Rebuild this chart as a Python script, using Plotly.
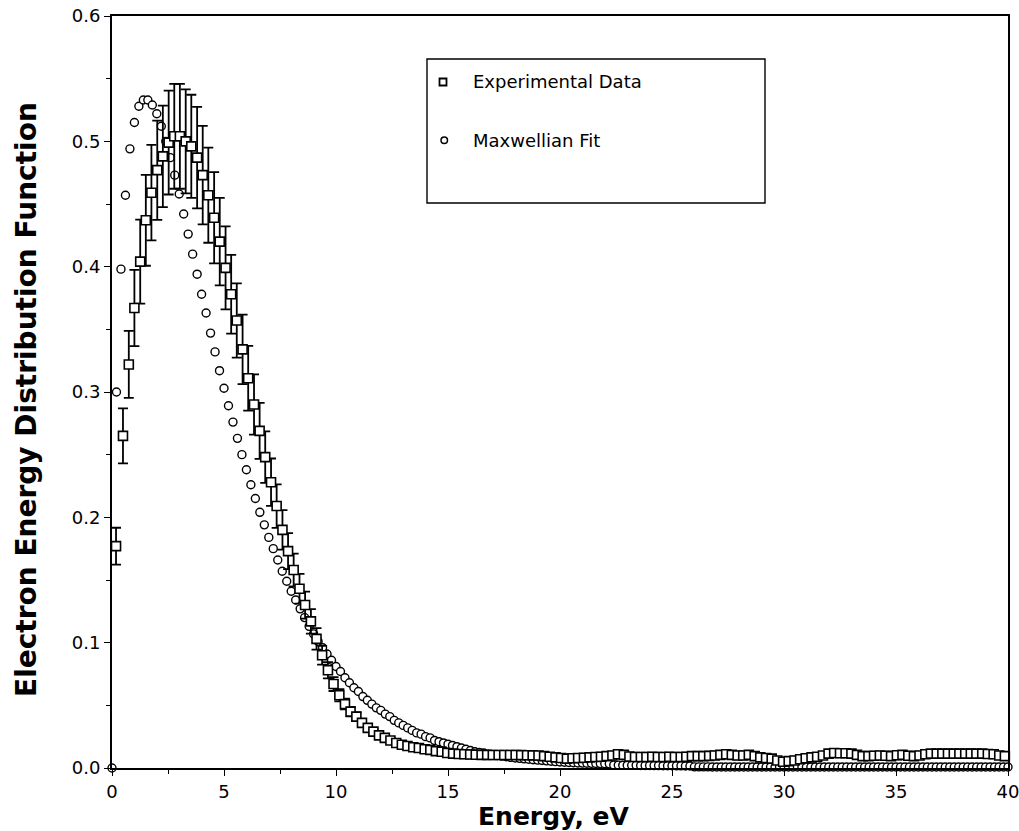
import plotly.graph_objects as go

# ---------------- data ----------------
energy_exp = [0.18, 0.49, 0.75, 1.00, 1.26, 1.51, 1.76, 2.02, 2.27, 2.53, 2.78, 3.03, 3.29, 3.54,
              3.80, 4.05, 4.30, 4.56, 4.81, 5.07, 5.32, 5.57, 5.83, 6.08, 6.34, 6.59, 6.84, 7.10,
              7.35, 7.61, 7.86, 8.11, 8.37, 8.62, 8.88, 9.13, 9.38, 9.64, 9.89, 10.15, 10.40, 10.65,
              10.91, 11.16, 11.42, 11.67, 11.92, 12.18, 12.43, 12.69, 12.94, 13.19, 13.45, 13.70,
              13.96, 14.21, 14.46, 14.72, 14.97, 15.23, 15.48, 15.73, 15.99, 16.24, 16.50, 16.75,
              17.00, 17.26, 17.51, 17.77, 18.02, 18.27, 18.53, 18.78, 19.04, 19.29, 19.54, 19.80,
              20.05, 20.31, 20.56, 20.81, 21.07, 21.32, 21.58, 21.83, 22.08, 22.34, 22.59, 22.85,
              23.10, 23.35, 23.61, 23.86, 24.12, 24.37, 24.62, 24.88, 25.13, 25.39, 25.64, 25.89,
              26.15, 26.40, 26.66, 26.91, 27.16, 27.42, 27.67, 27.93, 28.18, 28.43, 28.69, 28.94,
              29.20, 29.45, 29.70, 29.96, 30.21, 30.47, 30.72, 30.97, 31.23, 31.48, 31.74, 31.99,
              32.24, 32.50, 32.75, 33.01, 33.26, 33.51, 33.77, 34.02, 34.28, 34.53, 34.78, 35.04,
              35.29, 35.55, 35.80, 36.05, 36.31, 36.56, 36.82, 37.07, 37.32, 37.58, 37.83, 38.09,
              38.34, 38.59, 38.85, 39.10, 39.36, 39.61, 39.86]

eedf_exp = [0.177, 0.265, 0.322, 0.367, 0.404, 0.437, 0.459, 0.477, 0.488, 0.499, 0.504, 0.504,
            0.500, 0.496, 0.487, 0.473, 0.457, 0.439, 0.420, 0.399, 0.378, 0.357, 0.334, 0.311,
            0.290, 0.269, 0.248, 0.228, 0.209, 0.190, 0.173, 0.158, 0.143, 0.130, 0.117, 0.103,
            0.090, 0.078, 0.067, 0.058, 0.051, 0.045, 0.041, 0.036, 0.032, 0.029, 0.026, 0.024,
            0.022, 0.020, 0.0185, 0.0175, 0.0165, 0.016, 0.015, 0.0145, 0.0135, 0.013, 0.012,
            0.0115, 0.0112, 0.011, 0.0108, 0.0106, 0.0105, 0.0105, 0.0104, 0.0104, 0.0104, 0.0104,
            0.0104, 0.0103, 0.0102, 0.0101, 0.0100, 0.0095, 0.0090, 0.0085, 0.0080, 0.0075, 0.0078,
            0.0080, 0.0082, 0.0085, 0.0088, 0.0090, 0.0095, 0.0100, 0.0110, 0.0105, 0.0092, 0.0088,
            0.0088, 0.0088, 0.0090, 0.0088, 0.0088, 0.0090, 0.0088, 0.0088, 0.0090, 0.0095, 0.0095,
            0.0095, 0.0097, 0.0100, 0.0105, 0.0110, 0.0105, 0.0100, 0.0100, 0.0105, 0.0095, 0.0085,
            0.0080, 0.0075, 0.0060, 0.0050, 0.0055, 0.0060, 0.0070, 0.0078, 0.0085, 0.0090, 0.0100,
            0.0115, 0.0120, 0.0118, 0.0118, 0.0115, 0.0105, 0.0095, 0.0095, 0.0098, 0.0100, 0.0098,
            0.0095, 0.0102, 0.0105, 0.0098, 0.0095, 0.0100, 0.0110, 0.0115, 0.0115, 0.0115, 0.0115,
            0.0115, 0.0115, 0.0115, 0.0115, 0.0115, 0.0115, 0.0112, 0.0110, 0.0100, 0.0095]

error_percent = 8.3  # error bars read as roughly 8 % of each value

energy_fit = [0.0, 0.2, 0.4, 0.6, 0.8, 1.0, 1.2, 1.4, 1.6, 1.8, 2.0, 2.2, 2.4, 2.6, 2.8, 3.0, 3.2, 3.4,
              3.6, 3.8, 4.0, 4.2, 4.4, 4.6, 4.8, 5.0, 5.2, 5.4, 5.6, 5.8, 6.0, 6.2, 6.4, 6.6, 6.8, 7.0,
              7.2, 7.4, 7.6, 7.8, 8.0, 8.2, 8.4, 8.6, 8.8, 9.0, 9.2, 9.4, 9.6, 9.8, 10.0, 10.2, 10.4,
              10.6, 10.8, 11.0, 11.2, 11.4, 11.6, 11.8, 12.0, 12.2, 12.4, 12.6, 12.8, 13.0, 13.2, 13.4,
              13.6, 13.8, 14.0, 14.2, 14.4, 14.6, 14.8, 15.0, 15.2, 15.4, 15.6, 15.8, 16.0, 16.2, 16.4,
              16.6, 16.8, 17.0, 17.2, 17.4, 17.6, 17.8, 18.0, 18.2, 18.4, 18.6, 18.8, 19.0, 19.2, 19.4,
              19.6, 19.8, 20.0, 20.2, 20.4, 20.6, 20.8, 21.0, 21.2, 21.4, 21.6, 21.8, 22.0, 22.2, 22.4,
              22.6, 22.8, 23.0, 23.2, 23.4, 23.6, 23.8, 24.0, 24.2, 24.4, 24.6, 24.8, 25.0, 25.2, 25.4,
              25.6, 25.8, 26.0, 26.2, 26.4, 26.6, 26.8, 27.0, 27.2, 27.4, 27.6, 27.8, 28.0, 28.2, 28.4,
              28.6, 28.8, 29.0, 29.2, 29.4, 29.6, 29.8, 30.0, 30.2, 30.4, 30.6, 30.8, 31.0, 31.2, 31.4,
              31.6, 31.8, 32.0, 32.2, 32.4, 32.6, 32.8, 33.0, 33.2, 33.4, 33.6, 33.8, 34.0, 34.2, 34.4,
              34.6, 34.8, 35.0, 35.2, 35.4, 35.6, 35.8, 36.0, 36.2, 36.4, 36.6, 36.8, 37.0, 37.2, 37.4,
              37.6, 37.8, 38.0, 38.2, 38.4, 38.6, 38.8, 39.0, 39.2, 39.4, 39.6, 39.8, 40.0]

eedf_fit = [0.000, 0.300, 0.398, 0.457, 0.494, 0.515, 0.528, 0.533, 0.533, 0.529, 0.522, 0.512,
            0.500, 0.487, 0.473, 0.458, 0.442, 0.426, 0.410, 0.394, 0.378, 0.363, 0.347, 0.332,
            0.317, 0.303, 0.289, 0.276, 0.263, 0.250, 0.238, 0.226, 0.215, 0.204, 0.194, 0.184,
            0.175, 0.166, 0.157, 0.149, 0.141, 0.134, 0.127, 0.120, 0.113, 0.107, 0.101, 0.096,
            0.091, 0.086, 0.081, 0.077, 0.072, 0.068, 0.064, 0.061, 0.057, 0.054, 0.051, 0.048,
            0.046, 0.043, 0.041, 0.038, 0.036, 0.034, 0.032, 0.030, 0.028, 0.027, 0.025, 0.024,
            0.022, 0.021, 0.020, 0.019, 0.018, 0.017, 0.016, 0.015, 0.014, 0.013, 0.0125, 0.012,
            0.011, 0.0105, 0.010, 0.0095, 0.009, 0.0085, 0.008, 0.0077, 0.0073, 0.007, 0.0066,
            0.0063, 0.006, 0.0057, 0.0054, 0.0051, 0.0048,
            0.0046, 0.0044, 0.0042, 0.0040, 0.0039, 0.0038, 0.0037, 0.0036, 0.0035, 0.0034, 0.0033,
            0.0024, 0.0023, 0.0022, 0.0022, 0.0021, 0.0021, 0.0020, 0.0020, 0.0020, 0.0019, 0.0019,
            0.0018, 0.0018, 0.0018, 0.0017, 0.0017, 0.0016, 0.0016,
            0.0009, 0.0009, 0.0009, 0.0009, 0.0008, 0.0008, 0.0008, 0.0008, 0.0008, 0.0008, 0.0008,
            0.0008, 0.0008, 0.0008, 0.0008, 0.0008, 0.0008, 0.0008, 0.0008, 0.0008, 0.0008, 0.0008,
            0.0008, 0.0008, 0.0008, 0.0008, 0.0008, 0.0008, 0.0008, 0.0008, 0.0008, 0.0008, 0.0008,
            0.0008, 0.0008, 0.0008, 0.0008, 0.0008, 0.0008, 0.0008, 0.0008, 0.0008, 0.0008, 0.0008,
            0.0008, 0.0008, 0.0008, 0.0008, 0.0008, 0.0008, 0.0008, 0.0008, 0.0008, 0.0008, 0.0008,
            0.0008, 0.0008, 0.0008, 0.0008, 0.0008, 0.0008, 0.0008, 0.0008, 0.0008, 0.0008, 0.0008,
            0.0008, 0.0008, 0.0008, 0.0008, 0.0008]

x_ticks = [0, 5, 10, 15, 20, 25, 30, 35, 40]
x_minor_ticks = [2.5, 7.5, 12.5, 17.5]
y_ticks = [0.0, 0.1, 0.2, 0.3, 0.4, 0.5, 0.6]
series_names = ["Experimental Data", "Maxwellian Fit"]

FONT = "DejaVu Sans, Verdana, sans-serif"

# plot area in pixels (for placing frame / annotations)
L, R, T, B = 112, 1008, 16, 768
W, H = R - L, B - T


def px(xp):
    return (xp - L) / W


def py(yp):
    return (B - yp) / H


fig = go.Figure()

fig.add_trace(go.Scatter(
    x=energy_fit, y=eedf_fit, mode="markers", name=series_names[1], showlegend=False,
    marker=dict(symbol="circle", size=8, color="white", line=dict(color="black", width=1.4)),
    cliponaxis=False,
))

fig.add_trace(go.Scatter(
    x=energy_exp, y=eedf_exp, mode="markers", name=series_names[0], showlegend=False,
    marker=dict(symbol="square", size=9, color="white", line=dict(color="black", width=1.6)),
    error_y=dict(type="percent", value=error_percent, color="black", thickness=1.8, width=5),
    cliponaxis=False,
))

axis_common = dict(
    showgrid=False, zeroline=False, showline=True, linecolor="black", linewidth=1.8,
    mirror=True, ticks="outside", tickcolor="black", tickwidth=1.4, ticklen=6,
    automargin=False, ticklabeloverflow="allow",
    tickfont=dict(family=FONT, size=18, color="black"),
)

fig.update_xaxes(range=[0, 40], tickvals=x_ticks, ticktext=[str(v) for v in x_ticks],
                 minor=dict(tickvals=x_minor_ticks, ticks="outside", ticklen=4,
                            tickcolor="black", tickwidth=1.2),
                 **axis_common)
fig.update_yaxes(range=[0, 0.6], tickvals=y_ticks, ticktext=[f"{v:.1f}" for v in y_ticks],
                 minor=dict(dtick=0.05, ticks="outside", ticklen=4,
                            tickcolor="black", tickwidth=1.2),
                 **axis_common)

fig.add_annotation(text="<b>Energy, eV</b>", xref="paper", yref="paper", x=px(554), y=py(816),
                   xanchor="center", yanchor="middle", showarrow=False,
                   font=dict(family=FONT, size=25, color="black"))
fig.add_annotation(text="<b>Electron Energy Distribution Function</b>", xref="paper",
                   yref="paper", x=px(26), y=py(400), xanchor="center", yanchor="middle",
                   textangle=-90, showarrow=False,
                   font=dict(family=FONT, size=28, color="black"))

# legend: frame, symbols and texts
fig.add_shape(type="rect", xref="paper", yref="paper",
              x0=px(427), x1=px(765), y0=py(203), y1=py(59),
              line=dict(color="black", width=1.4), fillcolor="rgba(0,0,0,0)")
fig.add_shape(type="rect", xref="paper", yref="paper",
              x0=px(439.5), x1=px(446.5), y0=py(85.5), y1=py(78.5),
              line=dict(color="black", width=1.8), fillcolor="white")
fig.add_shape(type="circle", xref="paper", yref="paper",
              x0=px(441), x1=px(447.5), y0=py(143.5), y1=py(137),
              line=dict(color="black", width=1.5), fillcolor="white")
for name, ypix in zip(series_names, [82, 140]):
    fig.add_annotation(text=name, xref="paper", yref="paper", x=px(471), y=py(ypix),
                       xanchor="left", yanchor="middle", showarrow=False,
                       font=dict(family=FONT, size=18, color="black"))

fig.update_layout(
    width=1019, height=831,
    margin=dict(l=L, r=1019 - R, t=T, b=831 - B, autoexpand=False),
    paper_bgcolor="white", plot_bgcolor="white",
    showlegend=False,
)

fig.write_html("out.html")
